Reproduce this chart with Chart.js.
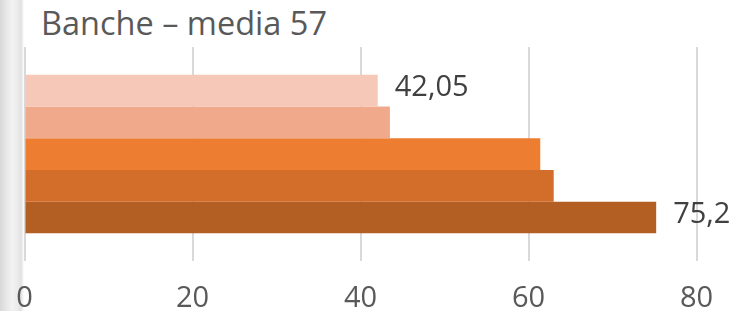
<!DOCTYPE html>
<html>
<head>
<meta charset="utf-8">
<script src="https://cdn.jsdelivr.net/npm/chart.js@4.4.1/dist/chart.umd.min.js"></script>
<style>
  html, body { margin: 0; padding: 0; background: #ffffff; }
  #wrap {
    position: relative;
    width: 735px;
    height: 311px;
    overflow: hidden;
    background: linear-gradient(to right, #d8d8d8 0px, #e6e6e6 6px, #f3f3f3 12px, #ececec 17px, #e2e2e2 21px, #f4f4f4 23px, #ffffff 24px);
  }
  #title {
    position: absolute;
    left: 41px;
    top: 0px;
    font-family: "Open Sans", sans-serif;
    font-size: 32.5px;
    color: #595959;
    white-space: nowrap;
  }
  #chart-box { position: absolute; left: 0; top: 0; width: 735px; height: 311px; }
</style>
</head>
<body>
<div id="wrap">
  <div id="title">Banche – media 57</div>
  <div id="chart-box"><canvas id="bars"></canvas></div>
</div>
<script>
const categories = ["Banche"];
const seriesNames = ["Serie 1", "Serie 2", "Serie 3", "Serie 4", "Serie 5"];
const seriesValues = [42.05, 43.5, 61.4, 63.0, 75.2];
const valueLabels = ["42,05", "", "", "", "75,2"];
const barColors = ["#f5c8b8", "#f0a98b", "#ed7d31", "#d26e2a", "#b35e22"];
const xTicks = [0, 20, 40, 60, 80];

// draws the value text just after the end of the bar
const valueLabelPlugin = {
  id: "valueLabels",
  afterDatasetsDraw(chart) {
    const ctx = chart.ctx;
    ctx.save();
    ctx.font = '29px "Open Sans", sans-serif';
    ctx.fillStyle = "#404040";
    ctx.textAlign = "left";
    ctx.textBaseline = "middle";
    chart.data.datasets.forEach((ds, i) => {
      const text = valueLabels[i];
      if (!text) return;
      const bar = chart.getDatasetMeta(i).data[0];
      ctx.fillText(text, bar.x + 17, bar.y - 3);
    });
    ctx.restore();
  },
};

new Chart("bars", {
  type: "bar",
  plugins: [valueLabelPlugin],
  data: {
    labels: categories,
    datasets: seriesNames.map((name, i) => ({
      label: name,
      data: [seriesValues[i]],
      backgroundColor: barColors[i],
      borderWidth: 0,
      barPercentage: 1,
      categoryPercentage: 0.74,
    })),
  },
  options: {
    indexAxis: "y",
    responsive: true,
    maintainAspectRatio: false,
    animation: false,
    layout: { padding: { left: 24.5, right: 38.5, top: 47, bottom: -25 } },
    plugins: {
      legend: { display: false },
      tooltip: { enabled: false },
      title: { display: false },
    },
    scales: {
      y: { display: false },
      x: {
        min: 0,
        max: 80,
        afterBuildTicks: (axis) => {
          axis.ticks = xTicks.map((v) => ({ value: v }));
        },
        afterFit: (axis) => {
          // let the layout padding decide where the plot starts and ends
          axis.paddingLeft = 0;
          axis.paddingRight = 0;
        },
        border: { display: false },
        grid: { color: "#d9d9d9", lineWidth: 2, drawTicks: false },
        ticks: {
          padding: 20,
          color: "#595959",
          font: { family: "Open Sans", size: 29 },
          maxRotation: 0,
        },
      },
    },
  },
});
</script>
</body>
</html>
